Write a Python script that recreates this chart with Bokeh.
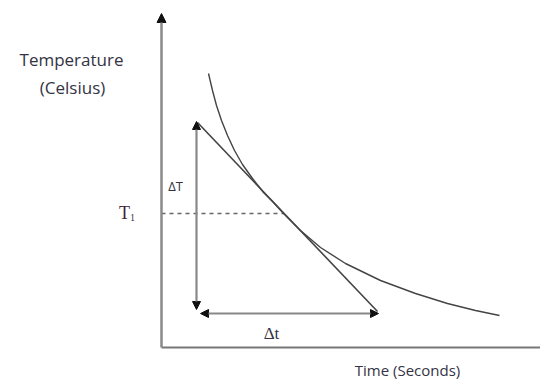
from bokeh.plotting import figure
from bokeh.models import Range1d, Arrow, NormalHead
from bokeh.core.properties import value
from bokeh.embed import file_html
from bokeh.resources import INLINE

# ---- diagram data (page-pixel coordinate system, y downwards) ----
curve_x = [208, 212, 216, 221, 227, 234, 242, 252, 263, 273, 283, 300, 320, 345, 380, 415, 447, 475, 499]
curve_y = [73, 90, 105, 120, 135, 150, 164, 178, 192, 202, 213, 230, 247, 263, 280, 293, 303, 310, 315]

tangent_x = [197, 377]
tangent_y = [122, 311]

origin = (161, 347)
y_axis_top = 13
x_axis_end = 540

t1_level = 213
t1_touch_x = 283

dT_x = 196
dT_range = (121, 309)
dt_y = 313
dt_range = (200, 378)

labels_main = ["Temperature", "(Celsius)"]
label_time = "Time (Seconds)"

p = figure(width=540, height=380, output_backend="svg", toolbar_location=None,
           x_range=Range1d(0, 540), y_range=Range1d(380, 0),
           min_border=0, outline_line_color=None)
p.axis.visible = False
p.grid.visible = False
p.background_fill_color = "white"

# axes
p.add_layout(Arrow(end=NormalHead(size=9, fill_color="#111", line_color="#111"),
                   x_start=origin[0], y_start=origin[1], x_end=origin[0], y_end=y_axis_top,
                   line_color="#8a8a8a", line_width=2.5))
p.line([origin[0], x_axis_end], [origin[1], origin[1]], line_color="#777", line_width=2)

# dashed T1 level
p.line([origin[0], t1_touch_x], [t1_level, t1_level], line_color="#666", line_width=1.3, line_dash="4 4")

# curve
p.line(curve_x, curve_y, line_color="#444", line_width=1.4)

# tangent
p.line(tangent_x, tangent_y, line_color="#444", line_width=1.6)

# delta T double arrow
p.add_layout(Arrow(start=NormalHead(size=8, fill_color="#111", line_color="#111"),
                   end=NormalHead(size=8, fill_color="#111", line_color="#111"),
                   x_start=dT_x, y_start=dT_range[0], x_end=dT_x, y_end=dT_range[1],
                   line_color="#888", line_width=2.2))
# delta t double arrow
p.add_layout(Arrow(start=NormalHead(size=8, fill_color="#111", line_color="#111"),
                   end=NormalHead(size=8, fill_color="#111", line_color="#111"),
                   x_start=dt_range[0], y_start=dt_y, x_end=dt_range[1], y_end=dt_y,
                   line_color="#888", line_width=2.2))

# labels
p.text(x=[71, 72], y=[59, 87], text=labels_main, text_align="center", text_baseline="middle",
       text_font=value("Open Sans"), text_font_size="17px", text_color="#333344")
p.text(x=[407], y=[369], text=[label_time], text_align="center", text_baseline="middle",
       text_font=value("Open Sans"), text_font_size="15px", text_color="#333344")
p.text(x=[175], y=[185], text=["ΔT"], text_align="center", text_baseline="middle",
       text_font=value("Open Sans"), text_font_size="13px", text_color="#333344")
p.text(x=[271], y=[333], text=["Δt"], text_align="center", text_baseline="middle",
       text_font=value("Liberation Serif"), text_font_size="17px", text_color="#333344")
p.text(x=[124], y=[212], text=["T"], text_align="center", text_baseline="middle",
       text_font=value("Liberation Serif"), text_font_size="18px", text_color="#442233")
p.text(x=[132], y=[217], text=["1"], text_align="center", text_baseline="middle",
       text_font=value("Liberation Serif"), text_font_size="10px", text_color="#333355")

open("out.html", "w").write(file_html(p, INLINE))
